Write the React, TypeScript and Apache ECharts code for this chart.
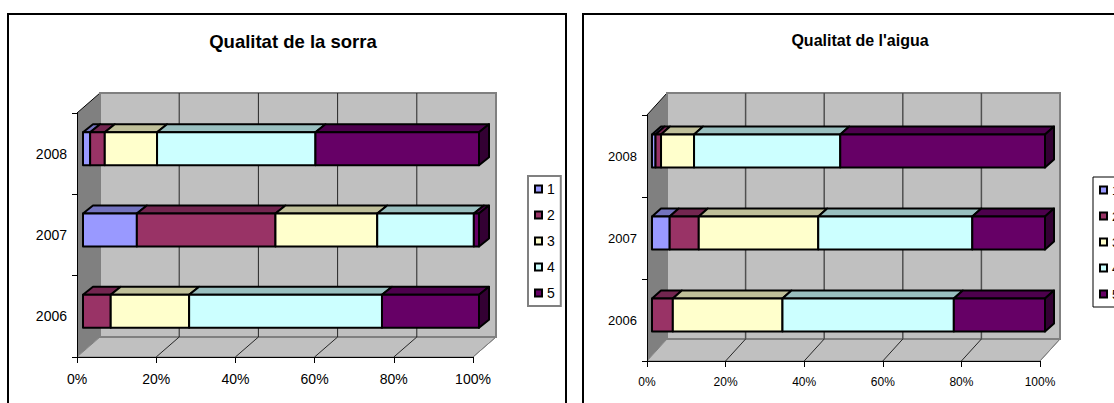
import React, { useEffect, useRef } from "react";
import * as echarts from "echarts";

const years = ["2006", "2007", "2008"];
const seriesNames = ["1", "2", "3", "4", "5"];
const colors = ["#9999FF", "#993366", "#FFFFCC", "#CCFFFF", "#660066"];
const topColors = ["#7373BF", "#732650", "#BFBF99", "#99BFBF", "#4D004D"];
const sideColor = "#330033";
const percentTicks = [0, 20, 40, 60, 80, 100];

const titleSorra = "Qualitat de la sorra";
const titleAigua = "Qualitat de l'aigua";

// each array: 2006, 2007, 2008
const sorra1 = [0, 13.6, 1.8];
const sorra2 = [7, 35, 3.7];
const sorra3 = [19.8, 25.7, 13.2];
const sorra4 = [48.7, 24.4, 40];
const sorra5 = [24.5, 1.3, 41.3];

const aigua1 = [0, 4.5, 0.9];
const aigua2 = [5.3, 7.4, 1.4];
const aigua3 = [27.9, 30.4, 8.4];
const aigua4 = [43.6, 39.2, 37.2];
const aigua5 = [23.2, 18.5, 52.1];

const FONT = "'Liberation Sans', Arial, sans-serif";

type Panel = {
  values: number[][];
  grid: { left: number; top: number; width: number; height: number };
  wall: [number, number];
  barShift: [number, number];
  barDepth: [number, number];
  barHeight: number;
  gridColor: string;
  gridWidth: number;
  xFont: number;
  yFont: number;
};

const panels: Panel[] = [
  {
    values: [sorra1, sorra2, sorra3, sorra4, sorra5],
    grid: { left: 77, top: 113, width: 396, height: 244 },
    wall: [23, -20],
    barShift: [6, -5],
    barDepth: [10, -8],
    barHeight: 33,
    gridColor: "#262626",
    gridWidth: 1,
    xFont: 14,
    yFont: 14,
  },
  {
    values: [aigua1, aigua2, aigua3, aigua4, aigua5],
    grid: { left: 647, top: 115, width: 393, height: 246 },
    wall: [20, -22],
    barShift: [5, -5],
    barDepth: [9, -8],
    barHeight: 33,
    gridColor: "#505050",
    gridWidth: 1.5,
    xFont: 12,
    yFont: 13,
  },
];

function wallSeries(p: Panel, idx: number) {
  return {
    type: "custom",
    name: "wall" + idx,
    xAxisIndex: idx,
    yAxisIndex: idx,
    z: 2,
    silent: true,
    data: [[0, 0]],
    encode: { x: 0, y: 1 },
    renderItem: (params: any, api: any) => {
      const cs = params.coordSys;
      const [dx, dy] = p.wall;
      const l = cs.x, r = cs.x + cs.width, t = cs.y, b = cs.y + cs.height;
      const children: any[] = [
        {
          type: "polygon",
          shape: { points: [[l, t], [l + dx, t + dy], [l + dx, b + dy], [l, b]] },
          style: { fill: "#808080" },
        },
        {
          type: "line",
          shape: { x1: l, y1: t, x2: l + dx, y2: t + dy },
          style: { stroke: "#000", lineWidth: 1 },
        },
        {
          type: "polygon",
          shape: { points: [[l, b], [r, b], [r + dx, b + dy], [l + dx, b + dy]] },
          style: { fill: "#C0C0C0", stroke: "#808080", lineWidth: 1 },
        },
        {
          type: "rect",
          shape: { x: l + dx, y: t + dy, width: cs.width, height: cs.height },
          style: { fill: "#C0C0C0", stroke: "#808080", lineWidth: 2 },
        },
      ];
      percentTicks.slice(1, -1).forEach((v) => {
        const x = api.coord([v, 0])[0];
        children.push({
          type: "line",
          shape: { x1: x + dx, y1: t + dy, x2: x + dx, y2: b + dy },
          style: { stroke: p.gridColor, lineWidth: p.gridWidth },
        });
      });
      percentTicks.slice(1).forEach((v) => {
        const x = api.coord([v, 0])[0];
        children.push({
          type: "line",
          shape: { x1: x, y1: b, x2: x + dx, y2: b + dy },
          style: { stroke: v === 100 ? "#808080" : "#262626", lineWidth: 1 },
        });
      });
      return { type: "group", children };
    },
  };
}

function barSeries(p: Panel, idx: number) {
  return seriesNames.map((name, si) => {
    const data = years.map((year, yi) => {
      let start = 0;
      for (let k = 0; k < si; k++) start += p.values[k][yi];
      return [yi, start, start + p.values[si][yi]];
    });
    return {
      type: "custom",
      name,
      xAxisIndex: idx,
      yAxisIndex: idx,
      z: 4,
      itemStyle: { color: colors[si] },
      encode: { x: [1, 2], y: 0 },
      data,
      renderItem: (_params: any, api: any) => {
        const cat = api.value(0);
        const s = api.value(1);
        const e = api.value(2);
        if (e - s <= 0) return { type: "group", children: [] };
        const [sx, sy] = p.barShift;
        const [ddx, ddy] = p.barDepth;
        const a = api.coord([s, cat]);
        const c = api.coord([e, cat]);
        const x0 = a[0] + sx, x1 = c[0] + sx;
        const yT = a[1] + sy - p.barHeight / 2;
        const yB = yT + p.barHeight;
        const edge = { stroke: "#000", lineWidth: 2, lineJoin: "round" };
        const children: any[] = [
          {
            type: "polygon",
            shape: { points: [[x0, yT], [x0 + ddx, yT + ddy], [x1 + ddx, yT + ddy], [x1, yT]] },
            style: { fill: topColors[si], ...edge },
          },
          {
            type: "rect",
            shape: { x: x0, y: yT, width: x1 - x0, height: p.barHeight },
            style: { fill: colors[si], ...edge },
          },
        ];
        if (e >= 99.9) {
          children.push({
            type: "polygon",
            shape: { points: [[x1, yT], [x1 + ddx, yT + ddy], [x1 + ddx, yB + ddy], [x1, yB]] },
            style: { fill: sideColor, ...edge },
          });
        }
        return { type: "group", children };
      },
    };
  });
}

export default function App() {
  const ref = useRef<HTMLDivElement>(null);
  useEffect(() => {
    const chart = echarts.init(ref.current!, undefined, { renderer: "svg" });
    chart.setOption({
      animation: false,
      backgroundColor: "#fff",
      title: [
        { text: titleSorra, left: 288, top: 27, textAlign: "center",
          textStyle: { fontFamily: FONT, fontSize: 18.5, fontWeight: "bold", color: "#000" } },
        { text: titleAigua, left: 855, top: 27, textAlign: "center",
          textStyle: { fontFamily: FONT, fontSize: 16, fontWeight: "bold", color: "#000" } },
      ],
      grid: panels.map((p) => ({ ...p.grid, containLabel: false })),
      xAxis: panels.map((p, i) => ({
        type: "value",
        gridIndex: i,
        min: 0,
        max: 100,
        interval: 20,
        z: 3,
        axisLine: { show: true, lineStyle: { color: "#000", width: 1 } },
        axisTick: { show: true, length: 6, inside: false, lineStyle: { color: "#000" } },
        axisLabel: { color: "#000", fontFamily: FONT, fontSize: p.xFont, margin: 15, formatter: "{value}%" },
        splitLine: { show: false },
      })),
      yAxis: panels.map((p, i) => ({
        type: "category",
        gridIndex: i,
        data: years,
        z: 3,
        axisLine: { show: true, lineStyle: { color: "#000", width: 1 } },
        axisTick: { show: true, length: 5, lineStyle: { color: "#000" } },
        axisLabel: { color: "#000", fontFamily: FONT, fontSize: p.yFont, margin: 10, padding: [3, 0, 0, 0] },
        splitLine: { show: false },
      })),
      legend: [
        { left: 528, top: 176, borderColor: "#808080", borderWidth: 2, fontSize: 14, gap: 12, padV: 6 },
        { left: 1093, top: 177, borderColor: "#000", borderWidth: 1, fontSize: 13, gap: 13, padV: 6.5 },
      ].map((l) => ({
        left: l.left,
        top: l.top,
        borderColor: l.borderColor,
        borderWidth: l.borderWidth,
        orient: "vertical",
        data: seriesNames,
        icon: "rect",
        itemWidth: 7,
        itemHeight: 7,
        itemGap: l.gap,
        padding: [l.padV, 6, l.padV, 6],
        backgroundColor: "#fff",
        selectedMode: false,
        itemStyle: { borderColor: "#000", borderWidth: 2 },
        textStyle: { fontFamily: FONT, fontSize: l.fontSize, color: "#000" },
      })),
      series: panels.flatMap((p, i) => [wallSeries(p, i), ...barSeries(p, i)]),
      graphic: [
        { type: "rect", z: 0, silent: true, shape: { x: 8, y: 14, width: 558, height: 500 },
          style: { fill: "none", stroke: "#000", lineWidth: 2 } },
        { type: "rect", z: 0, silent: true, shape: { x: 583, y: 14, width: 600, height: 500 },
          style: { fill: "none", stroke: "#000", lineWidth: 2 } },
      ],
    });
    return () => chart.dispose();
  }, []);
  return (
    <div
      ref={ref}
      style={{ position: "fixed", left: 0, top: 0, width: 1114, height: 403, overflow: "hidden" }}
    />
  );
}
